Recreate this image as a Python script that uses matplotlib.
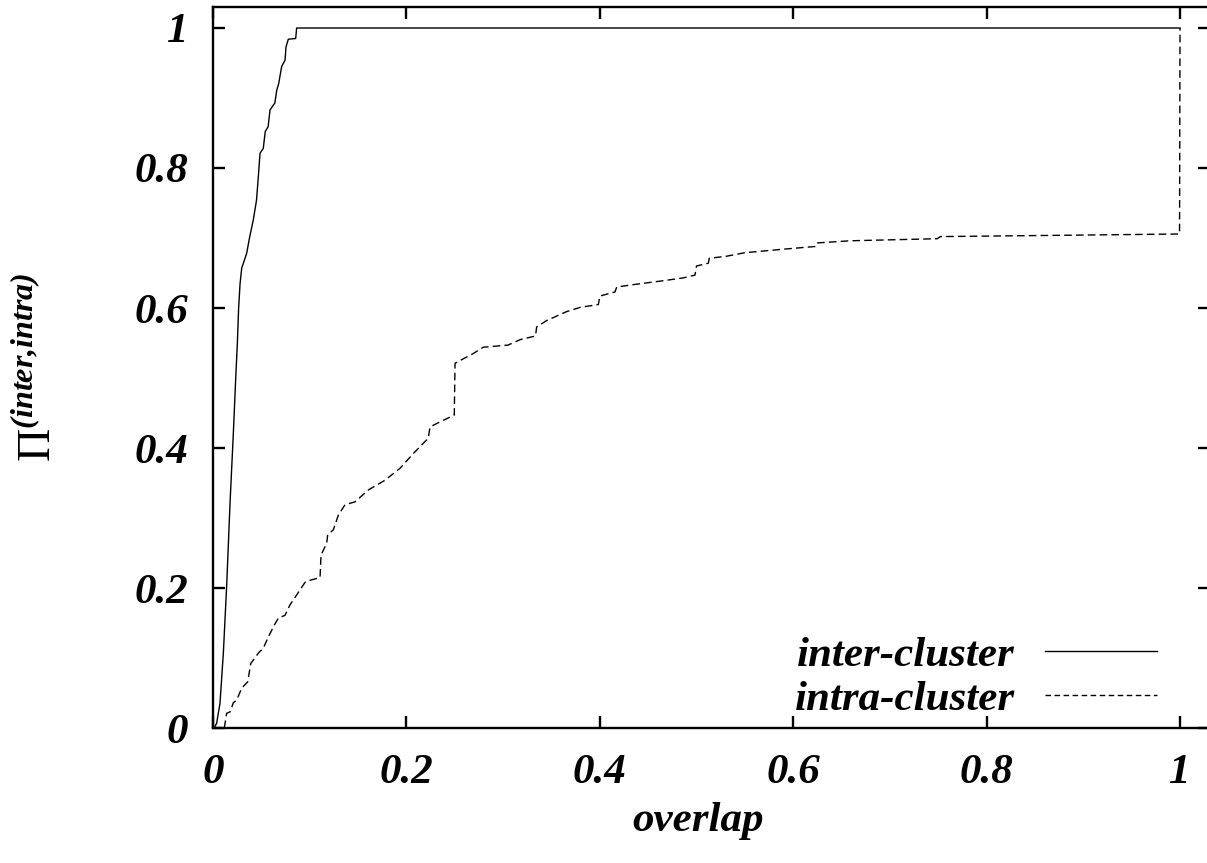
import matplotlib
matplotlib.use("Agg")
import matplotlib.pyplot as plt

# cumulative fraction of pairs vs overlap
inter_x = [0.0, 0.0013, 0.0038, 0.0072, 0.0107, 0.0141, 0.0176, 0.021, 0.0235, 0.0252,
           0.0265, 0.028, 0.0297, 0.0348, 0.038, 0.0417, 0.045, 0.0469, 0.0486, 0.052,
           0.054, 0.057, 0.059, 0.064, 0.0659, 0.068, 0.071, 0.0745, 0.0755, 0.0779,
           0.0855, 0.0865, 1.0]
inter_y = [0.0, 0.0, 0.007, 0.035, 0.107, 0.202, 0.321, 0.42, 0.50, 0.55,
           0.60, 0.635, 0.657, 0.678, 0.702, 0.726, 0.754, 0.788, 0.821, 0.828,
           0.852, 0.859, 0.883, 0.893, 0.911, 0.921, 0.945, 0.954, 0.973, 0.984,
           0.985, 1.0, 1.0]

intra_x = [0.0117, 0.0141, 0.0176, 0.021, 0.0245, 0.0297, 0.0359, 0.039, 0.0469, 0.052,
           0.0572, 0.0634, 0.0676, 0.0745, 0.0796, 0.0865, 0.0951, 0.1003, 0.1107, 0.1117,
           0.1176, 0.1186, 0.1244, 0.1296, 0.1365, 0.1468, 0.1606, 0.1779, 0.1934, 0.2071,
           0.2226, 0.2244, 0.2313, 0.2495, 0.2503, 0.2623, 0.2692, 0.2795, 0.305, 0.318,
           0.3335, 0.3347, 0.345, 0.366, 0.380, 0.3985, 0.4, 0.4157, 0.4175, 0.438,
           0.4657, 0.4863, 0.4984, 0.5, 0.5122, 0.5132, 0.5312, 0.550, 0.5898, 0.624,
           0.6253, 0.6587, 0.749, 0.752, 0.9995, 1.0]
intra_y = [0.0, 0.021, 0.023, 0.036, 0.04, 0.057, 0.066, 0.092, 0.107, 0.114,
           0.130, 0.147, 0.157, 0.161, 0.176, 0.19, 0.208, 0.211, 0.215, 0.247,
           0.264, 0.276, 0.283, 0.304, 0.319, 0.323, 0.34, 0.354, 0.371, 0.392,
           0.414, 0.430, 0.435, 0.447, 0.521, 0.530, 0.535, 0.544, 0.547, 0.555,
           0.56, 0.573, 0.582, 0.595, 0.601, 0.605, 0.617, 0.623, 0.630, 0.634,
           0.639, 0.643, 0.647, 0.66, 0.664, 0.671, 0.674, 0.679, 0.684, 0.688,
           0.693, 0.696, 0.699, 0.702, 0.7057, 1.0]

tick_vals = [0, 0.2, 0.4, 0.6, 0.8, 1]
tick_labels = ["0", "0.2", "0.4", "0.6", "0.8", "1"]

plt.rcParams["font.family"] = ["Liberation Serif", "DejaVu Serif"]
plt.rcParams["mathtext.fontset"] = "custom"
plt.rcParams["mathtext.rm"] = "Liberation Serif"
plt.rcParams["mathtext.bf"] = "Liberation Serif:bold:italic"

fs = 31
W, H = 1207, 863
fig = plt.figure(figsize=(W / 100, H / 100), dpi=100)
# axes box in pixels: left 213, right 1210 (cut by the image edge), top 7, bottom 728
ax = fig.add_axes([213 / W, (H - 728) / H, 997 / W, 721 / H])

ax.plot(inter_x, inter_y, color="black", linewidth=1.0, label="inter-cluster")
ax.plot(intra_x, intra_y, color="black", linewidth=1.0, dashes=(5.5, 3.0), label="intra-cluster")

ax.set_xlim(0, 1.031)
ax.set_ylim(0, 1.03)
ax.set_xticks(tick_vals)
ax.set_xticklabels(tick_labels)
ax.set_yticks(tick_vals)
ax.set_yticklabels(tick_labels)

for side in ["left", "right", "top", "bottom"]:
    ax.spines[side].set_linewidth(1.7)
ax.tick_params(direction="in", length=8.6, width=1.7, top=True, right=True)
ax.tick_params(axis="x", pad=19)
ax.tick_params(axis="y", pad=18)
for lab in ax.get_xticklabels() + ax.get_yticklabels():
    lab.set_fontsize(fs)
    lab.set_fontweight("bold")
    lab.set_fontstyle("italic")

ax.set_xlabel("overlap", fontsize=fs, fontweight="bold", fontstyle="italic")
ax.xaxis.set_label_coords((698 - 213) / 997, (728 - 821) / 721)
ax.xaxis.label.set_va("center")

ax.set_ylabel(r"$\Pi^{\mathbf{(inter{,}intra)}}$", fontsize=33)
ax.yaxis.set_label_coords((39 - 213) / 997, 0.5)
ax.yaxis.label.set_va("center")

leg = ax.legend(loc="lower right", bbox_to_anchor=((1157 - 213) / 997, 0.013),
                frameon=False, markerfirst=False, handlelength=2.6, handletextpad=0.7,
                borderpad=0, borderaxespad=0, labelspacing=0.1,
                prop={"family": "Liberation Serif", "weight": "bold", "style": "italic", "size": fs})
leg.get_lines()[1].set_dashes((4.0, 2.5))

plt.savefig("out.png", dpi=100)
